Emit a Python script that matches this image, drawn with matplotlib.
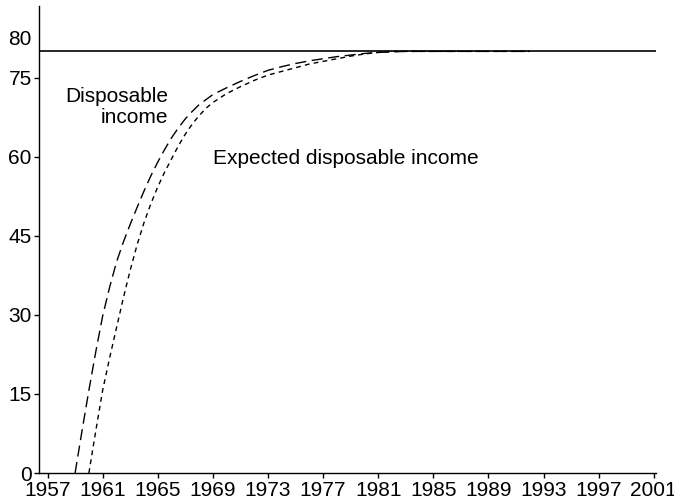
import matplotlib
matplotlib.use("Agg")
import matplotlib.pyplot as plt
from matplotlib.transforms import ScaledTranslation

plt.rcParams['font.family'] = ['Liberation Sans', 'DejaVu Sans']

# Data
disp_years = [1959, 1959.5, 1960, 1960.5, 1961, 1961.5, 1962, 1962.5, 1963, 1963.5,
              1964, 1964.5, 1965, 1965.5, 1966, 1966.5, 1967, 1967.5, 1968, 1969,
              1970, 1971, 1972, 1973, 1974, 1975, 1976, 1977, 1978, 1979, 1980,
              1981, 1982, 1983, 1985, 1988, 1992]
disp_values = [0, 8, 15.7, 23, 29.8, 35.2, 40, 43.8, 47.2, 50.4,
               53.5, 56.4, 59, 61.4, 63.6, 65.5, 67.2, 68.6, 69.9, 71.8,
               73.1, 74.3, 75.4, 76.4, 77.1, 77.7, 78.2, 78.6, 79.0, 79.3, 79.6,
               79.8, 79.9, 80, 80, 80, 80]

exp_years = [1960, 1960.5, 1961, 1961.5, 1962, 1962.5, 1963, 1963.5, 1964, 1964.5,
             1965, 1965.5, 1966, 1966.5, 1967, 1967.5, 1968, 1968.5, 1969, 1970,
             1971, 1972, 1973, 1974, 1975, 1976, 1977, 1978, 1979, 1980, 1981,
             1982, 1983, 1985, 1988, 1992]
exp_values = [0, 8, 15.7, 21.8, 27.5, 33.2, 38.5, 43.3, 47.5, 51.1,
              54.3, 57.1, 59.6, 62.1, 64.3, 66.2, 67.8, 69.2, 70.3, 72.0,
              73.3, 74.5, 75.5, 76.2, 76.9, 77.6, 78.1, 78.6, 79.1, 79.5, 79.8,
              80, 80, 80, 80, 80]

ceiling_value = 80
x_ticks = list(range(1957, 2002, 4))
y_ticks = [0, 15, 30, 45, 60, 75, 80]

fig = plt.figure(figsize=(6.74, 5.04), dpi=100)
ax = fig.add_axes([0.0583, 0.0615, 0.9147, 0.9265])

ax.axhline(ceiling_value, color='black', lw=1.2)
ax.plot(disp_years, disp_values, color='black', lw=1.0, dashes=(8, 4))
ax.plot(exp_years, exp_values, color='black', lw=1.0, dashes=(3.5, 3))

ax.set_xlim(1956.4, 2001.15)
ax.set_ylim(0, 88.6)
ax.set_xticks(x_ticks)
ax.set_yticks(y_ticks)
ax.tick_params(axis='both', direction='out', length=3.5, width=1, labelsize=15, pad=2,
               colors='black')

for s in ['top', 'right']:
    ax.spines[s].set_visible(False)
for s in ['left', 'bottom']:
    ax.spines[s].set_linewidth(1.0)

# the "80" label sits above its line, without a tick mark
yt = ax.yaxis.get_major_ticks()
yt[-1].tick1line.set_visible(False)
off = ScaledTranslation(0, 14 / 100, fig.dpi_scale_trans)
yt[-1].label1.set_transform(yt[-1].label1.get_transform() + off)

ax.text(1965.74, 69.4, 'Disposable\nincome', ha='right', va='center', fontsize=15,
        multialignment='right', linespacing=1.1)
ax.text(1969.0, 59.6, 'Expected disposable income', ha='left', va='center', fontsize=15)

fig.savefig('out.png', dpi=100)
